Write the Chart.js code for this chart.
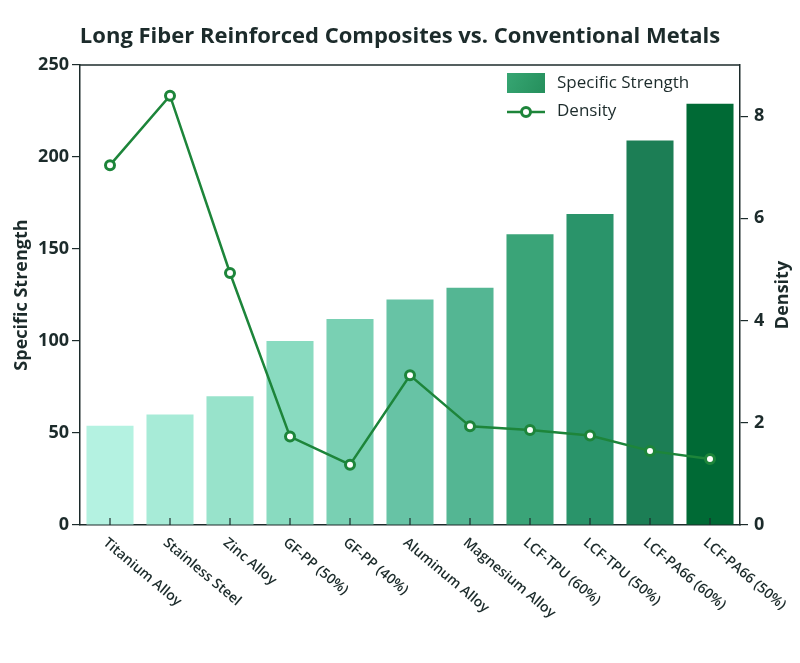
<!DOCTYPE html>
<html>
<head>
<meta charset="utf-8">
<script src="https://cdn.jsdelivr.net/npm/chart.js@4.4.0/dist/chart.umd.min.js"></script>
<style>
    html, body { margin: 0; padding: 0; background: #ffffff; }
    #wrap { width: 800px; height: 663px; }
</style>
</head>
<body>
<div id="wrap"><canvas id="composite-chart" width="800" height="663"></canvas></div>
<script>
// Chart values
const materials = [
    "Titanium Alloy", "Stainless Steel", "Zinc Alloy", "GF-PP (50%)", "GF-PP (40%)",
    "Aluminum Alloy", "Magnesium Alloy", "LCF-TPU (60%)", "LCF-TPU (50%)",
    "LCF-PA66 (60%)", "LCF-PA66 (50%)"
];
const specificStrength = [54, 60, 70, 100, 112, 122.5, 129, 158, 169, 209, 229];
const density = [7.04, 8.4, 4.93, 1.73, 1.18, 2.93, 1.93, 1.86, 1.75, 1.45, 1.29];
const barColors = [
    "#b4f2e1", "#a7ebd7", "#98e3cb", "#89dbc0", "#79d0b3", "#67c3a5",
    "#54b693", "#3aa478", "#2a946a", "#1c7e55", "#006a35"
];
const strengthTicks = [0, 50, 100, 150, 200, 250];
const densityTicks = [0, 2, 4, 6, 8];

const textColor = "#1c2b2b";
const lineColor = "#1d853a";

// Draws the rotated category labels, inward tick marks, top frame line,
// the right axis title and the legend
const extrasPlugin = {
    id: "extras",
    afterDraw(chart) {
        const ctx = chart.ctx;
        const area = chart.chartArea;
        const xScale = chart.scales.x;

        ctx.save();
        ctx.strokeStyle = textColor;
        ctx.lineWidth = 1.5;
        ctx.beginPath();
        ctx.moveTo(area.left, area.top);
        ctx.lineTo(area.right, area.top);
        ctx.stroke();

        // inward tick marks on the category axis
        ctx.lineWidth = 1.2;
        materials.forEach((m, i) => {
            const x = xScale.getPixelForTick(i);
            ctx.beginPath();
            ctx.moveTo(x, area.bottom);
            ctx.lineTo(x, area.bottom - 7);
            ctx.stroke();
        });

        // labels turned clockwise
        ctx.fillStyle = textColor;
        ctx.font = "600 14px 'Open Sans'";
        ctx.textAlign = "left";
        ctx.textBaseline = "middle";
        materials.forEach((m, i) => {
            const x = xScale.getPixelForTick(i);
            ctx.save();
            ctx.translate(x - 5, area.bottom + 16);
            ctx.rotate(40 * Math.PI / 180);
            ctx.fillText(m, 0, 0);
            ctx.restore();
        });

        // right axis title, read bottom to top
        ctx.save();
        ctx.translate(783, (area.top + area.bottom) / 2);
        ctx.rotate(-Math.PI / 2);
        ctx.textAlign = "center";
        ctx.font = "bold 18px 'Open Sans'";
        ctx.fillText("Density", 0, 0);
        ctx.restore();

        // legend in the top right of the plot
        const lx = 507, ly = 73;
        const grad = ctx.createLinearGradient(lx, ly, lx + 38, ly + 20);
        grad.addColorStop(0, "#37a673");
        grad.addColorStop(1, "#258f5c");
        ctx.fillStyle = grad;
        ctx.fillRect(lx, ly, 38, 20);

        ctx.strokeStyle = lineColor;
        ctx.lineWidth = 2.5;
        ctx.beginPath();
        ctx.moveTo(lx, 112);
        ctx.lineTo(lx + 38, 112);
        ctx.stroke();
        ctx.beginPath();
        ctx.arc(lx + 19, 112, 4.5, 0, Math.PI * 2);
        ctx.fillStyle = "#ffffff";
        ctx.fill();
        ctx.lineWidth = 3;
        ctx.stroke();

        ctx.fillStyle = textColor;
        ctx.font = "500 17px 'Open Sans'";
        ctx.textAlign = "left";
        ctx.textBaseline = "middle";
        ctx.fillText("Specific Strength", 557, 83);
        ctx.fillText("Density", 557, 111);
        ctx.restore();
    }
};

const ctx = document.getElementById("composite-chart").getContext("2d");

new Chart(ctx, {
    data: {
        labels: materials,
        datasets: [
            {
                type: "line",
                label: "Density",
                data: density,
                yAxisID: "y1",
                borderColor: lineColor,
                borderWidth: 2.5,
                pointRadius: 4.5,
                pointBorderWidth: 3,
                pointBackgroundColor: "#ffffff",
                pointBorderColor: lineColor,
                tension: 0,
                fill: false,
                order: 0,
            },
            {
                type: "bar",
                label: "Specific Strength",
                data: specificStrength,
                yAxisID: "y",
                backgroundColor: barColors,
                borderWidth: 0,
                categoryPercentage: 0.8,
                barPercentage: 0.98,
                order: 1,
            },
        ],
    },
    options: {
        responsive: false,
        animation: false,
        layout: { padding: { left: 0, right: 0, top: 0, bottom: 0 } },
        plugins: {
            legend: { display: false },
            tooltip: { enabled: false },
            title: {
                display: true,
                text: "Long Fiber Reinforced Composites vs. Conventional Metals",
                color: textColor,
                font: { family: "'Open Sans'", size: 22, weight: "bold" },
                padding: { top: 24, bottom: 14.6 },
            },
        },
        scales: {
            x: {
                grid: { display: false },
                border: { display: true, color: textColor, width: 1.5 },
                ticks: { display: false },
                afterFit(scale) { scale.height = 138; },
            },
            y: {
                position: "left",
                min: 0,
                max: 250,
                afterBuildTicks(scale) { scale.ticks = strengthTicks.map(v => ({ value: v })); },
                afterFit(scale) { scale.width = 80; },
                grid: { drawOnChartArea: false, drawTicks: true, tickLength: 8, color: textColor, lineWidth: 1.2 },
                border: { display: true, color: textColor, width: 1.5 },
                ticks: {
                    color: textColor,
                    padding: 3,
                    font: { family: "'Open Sans'", size: 18, weight: "bold" },
                },
                title: {
                    display: true,
                    text: "Specific Strength",
                    color: textColor,
                    font: { family: "'Open Sans'", size: 18, weight: "bold" },
                    padding: { top: 11, bottom: 0 },
                },
            },
            y1: {
                position: "right",
                min: 0,
                max: 9,
                afterBuildTicks(scale) { scale.ticks = densityTicks.map(v => ({ value: v })); },
                afterFit(scale) { scale.width = 60; },
                grid: { drawOnChartArea: false, drawTicks: true, tickLength: 8, color: textColor, lineWidth: 1.2 },
                border: { display: true, color: textColor, width: 1.5 },
                ticks: {
                    color: textColor,
                    padding: 6,
                    font: { family: "'Open Sans'", size: 18, weight: "bold" },
                },
                title: { display: false },
            },
        },
    },
    plugins: [extrasPlugin],
});
</script>
</body>
</html>
